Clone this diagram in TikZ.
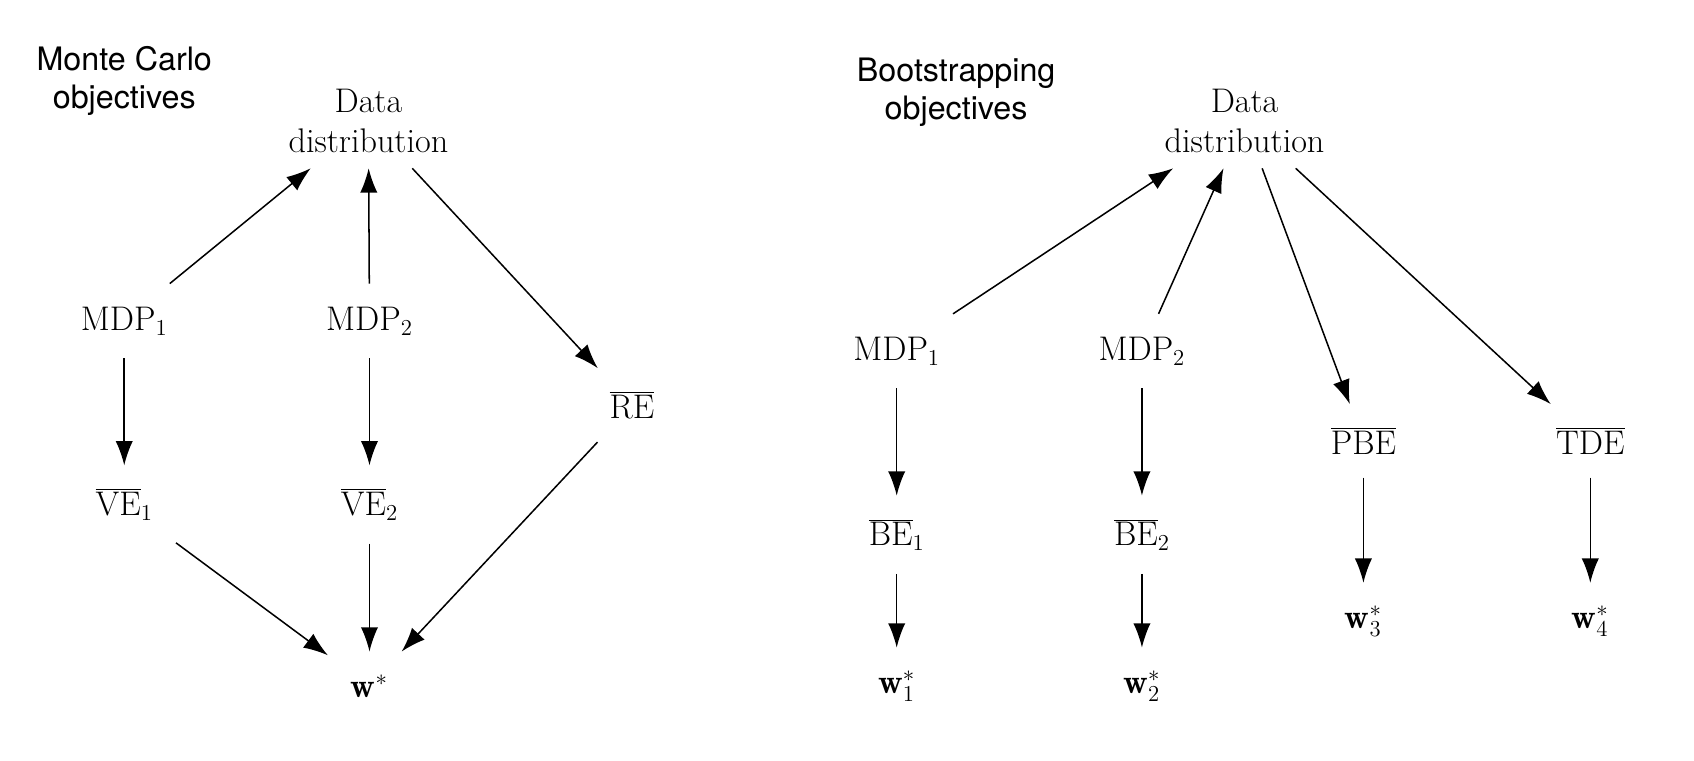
\documentclass[tikz,border=0pt]{standalone}
\usepackage{fontspec}
\newfontfamily\headfont{TeX Gyre Heros}
\usetikzlibrary{arrows.meta}
\begin{document}
\begin{tikzpicture}[x=0.02cm,y=-0.02cm,
    every node/.style={font=\fontsize{18}{21}\selectfont, inner sep=12pt},
    obj/.style={font=\headfont\fontsize{17}{20}\selectfont, align=center, inner sep=0pt},
    dist/.style={align=center, inner sep=8pt},
    link/.style={thick, -{Latex[length=4.5mm,width=3.2mm]}}]
  \useasboundingbox (0,0) rectangle (1568,704);
  % Monte Carlo objectives
  \node [obj] (mctitle) at (115,75) {Monte Carlo\\objectives};
  \node [dist] (mcdata) at (341,112) {Data\\distribution};
  \node (mcmdpa) at (115,297) {MDP$_1$};
  \node (mcmdpb) at (342,297) {MDP$_2$};
  \node (re) at (585,375) {$\overline{\mathrm{RE}}$};
  \node (vea) at (115,467) {$\overline{\mathrm{VE}}_1$};
  \node (veb) at (342,467) {$\overline{\mathrm{VE}}_2$};
  \node (w) at (342,635) {$\mathbf{w}^*$};
  \draw [link] (mcmdpa) -- (mcdata);
  \draw [link] (mcmdpb) -- (mcdata);
  \draw [link] (mcdata) -- (re);
  \draw [link] (mcmdpa) -- (vea);
  \draw [link] (mcmdpb) -- (veb);
  \draw [link] (vea) -- (w);
  \draw [link] (veb) -- (w);
  \draw [link] (re) -- (w);
  % Bootstrapping objectives
  \node [obj] (bstitle) at (885,85) {Bootstrapping\\objectives};
  \node [dist] (bsdata) at (1152,112) {Data\\distribution};
  \node (bsmdpa) at (830,325) {MDP$_1$};
  \node (bsmdpb) at (1057,325) {MDP$_2$};
  \node (pbe) at (1262,408) {$\overline{\mathrm{PBE}}$};
  \node (tde) at (1472,408) {$\overline{\mathrm{TDE}}$};
  \node (bea) at (830,495) {$\overline{\mathrm{BE}}_1$};
  \node (beb) at (1057,495) {$\overline{\mathrm{BE}}_2$};
  \node (wa) at (830,635) {$\mathbf{w}^*_1$};
  \node (wb) at (1057,635) {$\mathbf{w}^*_2$};
  \node (wc) at (1262,575) {$\mathbf{w}^*_3$};
  \node (wd) at (1472,575) {$\mathbf{w}^*_4$};
  \draw [link] (bsmdpa) -- (bsdata);
  \draw [link] (bsmdpb) -- (bsdata);
  \draw [link] (bsdata) -- (pbe);
  \draw [link] (bsdata) -- (tde);
  \draw [link] (bsmdpa) -- (bea);
  \draw [link] (bsmdpb) -- (beb);
  \draw [link] (bea) -- (wa);
  \draw [link] (beb) -- (wb);
  \draw [link] (pbe) -- (wc);
  \draw [link] (tde) -- (wd);
\end{tikzpicture}
\end{document}
